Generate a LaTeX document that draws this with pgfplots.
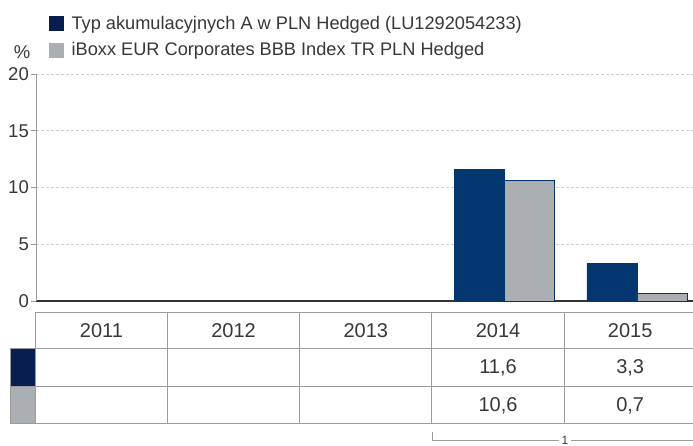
\documentclass[border=0pt]{standalone}
\usepackage{fontspec}
\setmainfont{Liberation Sans}
\usepackage{pgfplots}
\pgfplotsset{compat=1.18}
\definecolor{navy}{RGB}{3,54,111}
\definecolor{navyd}{RGB}{8,30,80}
\definecolor{barg}{RGB}{171,174,178}
\definecolor{txt}{RGB}{55,55,55}
\definecolor{tline}{RGB}{155,155,155}
\definecolor{gridc}{RGB}{205,205,205}
\begin{document}
\begin{tikzpicture}[x=1pt,y=1pt]
\path[use as bounding box] (0,0) rectangle (693,446);
\begin{axis}[
  at={(36pt,145pt)}, anchor=south west,
  scale only axis, width=657pt, height=227pt,
  xmin=-0.495, xmax=4.474, ymin=0, ymax=20,
  ytick={0,5,10,15,20}, xtick=\empty,
  axis x line*=bottom, axis y line*=left,
  x axis line style={draw=black!80, line width=1.2pt, -},
  y axis line style={draw=tline, line width=0.8pt, -},
  ymajorgrids, grid style={gridc, dash pattern=on 3pt off 2pt, line width=0.8pt},
  tick align=outside, major tick length=5pt, tick style={tline, line width=0.8pt},
  yticklabel style={font=\fontsize{18.5}{20}\selectfont, text=txt, inner sep=2pt},
  /pgf/number format/assume math mode=true,
  ybar, bar width=50pt,
  clip=false,
  legend style={draw=none, fill=none, at={(0.0198,1.264)}, anchor=north west,
    inner sep=0pt, outer sep=0pt, font=\fontsize{18.2}{20}\selectfont, text=txt,
    row sep=8pt, /tikz/every odd column/.append style={column sep=6pt}},
  legend cell align=left,
]
\addplot[fill=navy, draw=navy, line width=0.6pt, bar shift=-18.5pt,
  legend image code/.code={\fill[navyd] (0pt,-7pt) rectangle (14pt,7pt);}]
  coordinates {(3,11.6) (4,3.3)};
\addlegendentry{Typ akumulacyjnych A w PLN Hedged (LU1292054233)}
\addplot[fill=barg, draw=navy, line width=0.6pt, bar shift=31.5pt,
  legend image code/.code={\fill[barg] (0pt,-7pt) rectangle (14pt,7pt);}]
  coordinates {(3,10.6) (4,0.7)};
\addlegendentry{iBoxx EUR Corporates BBB Index TR PLN Hedged}
\end{axis}
% percent sign
\node[text=txt, font=\fontsize{18.5}{20}\selectfont] at (22,394) {\%};
% table
\fill[navyd] (10,59) rectangle (35.3,97);
\fill[barg] (10,22) rectangle (35.3,59);
\begin{scope}[draw=tline, line width=1pt]
\draw (35.3,133) -- (693,133);
\draw (10,97) -- (693,97);
\draw (10,59) -- (693,59);
\draw (10,22) -- (693,22);
\draw (10,97) -- (10,22);
\foreach \x in {35.3,167.5,299.7,431.9,564.1} \draw (\x,133) -- (\x,22);
\end{scope}
\begin{scope}[every node/.style={text=txt, font=\fontsize{20}{22}\selectfont}]
\node at (101.5,115) {2011};
\node at (233.6,115) {2012};
\node at (365.8,115) {2013};
\node at (498.0,115) {2014};
\node at (630.2,115) {2015};
\node at (498.0,78) {11,6};
\node at (630.2,78) {3,3};
\node at (498.0,40.5) {10,6};
\node at (630.2,40.5) {0,7};
\end{scope}
% bracket
\draw[tline, line width=0.8pt] (431.9,14) -- (431.9,5.5) -- (559,5.5);
\draw[tline, line width=0.8pt] (571,5.5) -- (693,5.5);
\node[text=txt, font=\fontsize{12}{13}\selectfont, inner sep=0pt, anchor=center] at (565,6) {1};
\end{tikzpicture}
\end{document}
